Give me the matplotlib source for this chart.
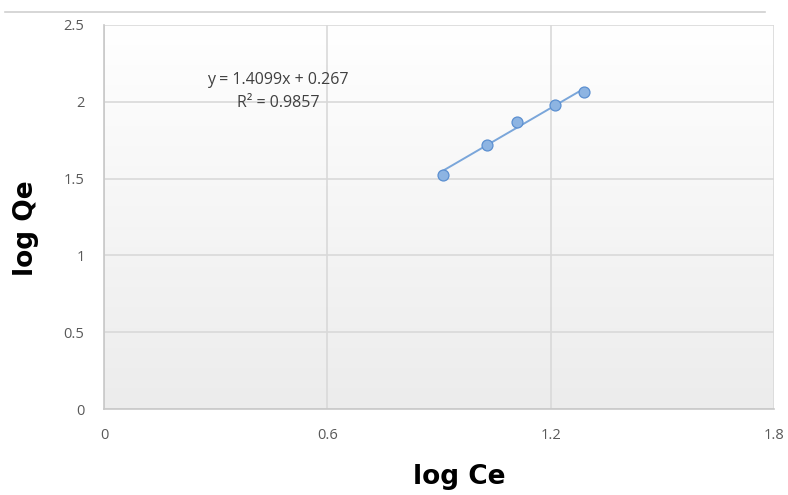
import numpy as np
import matplotlib
matplotlib.use('Agg')
import matplotlib.pyplot as plt
from matplotlib.lines import Line2D

# Data Freundlich (log Ce vs log Qe)
log_ce = [0.910, 1.029, 1.110, 1.212, 1.289]
log_qe = [1.523, 1.719, 1.866, 1.979, 2.062]

# Persamaan garis tren
slope = 1.4099
intercept = 0.267
r2 = 0.9857

x_ticks = [0, 0.6, 1.2, 1.8]
y_ticks = [0, 0.5, 1, 1.5, 2, 2.5]

plt.rcParams['font.family'] = ['Open Sans', 'DejaVu Sans']

fig = plt.figure(figsize=(7.88, 4.95), dpi=100)
ax = fig.add_axes([0.132, 0.1737, 0.850, 0.7758])

# Latar belakang gradasi putih ke abu-abu
grad = np.linspace(1.0, 0.0, 256).reshape(-1, 1)
ax.imshow(grad, cmap=matplotlib.colors.LinearSegmentedColormap.from_list(
    'bg', ['#ececec', '#ffffff']), aspect='auto', extent=[0, 1, 0, 1],
    transform=ax.transAxes, zorder=0, vmin=0, vmax=1)

ax.set_xlim(0, 1.8)
ax.set_ylim(0, 2.5)
ax.set_xticks(x_ticks)
ax.set_yticks(y_ticks)
ax.set_xticklabels(['0', '0.6', '1.2', '1.8'])
ax.set_yticklabels(['0', '0.5', '1', '1.5', '2', '2.5'])
ax.grid(True, color='#d9d9d9', linewidth=1.2, zorder=1)
ax.tick_params(length=0, labelsize=10.5, labelcolor='#595959')
ax.tick_params(axis='x', pad=14)
ax.tick_params(axis='y', pad=14)

for side in ['top', 'right']:
    ax.spines[side].set_visible(False)
for side in ['left', 'bottom']:
    ax.spines[side].set_color('#c8c8c8')
    ax.spines[side].set_linewidth(1.2)

# Garis tren linear
xt = np.array([min(log_ce), max(log_ce)])
ax.plot(xt, slope * xt + intercept, color='#7aa6da', linewidth=1.4, zorder=3)

# Titik data
ax.scatter(log_ce, log_qe, s=62, color='#8db4e2', edgecolors='#5b8fd0',
           linewidths=0.9, zorder=4)

ax.text(0.467, 2.14, 'y = %.4fx + %.3f' % (slope, intercept), ha='center',
        va='center', fontsize=11.5, color='#404040', zorder=5)
ax.text(0.467, 1.99, 'R² = %.4f' % r2, ha='center', va='center',
        fontsize=11.5, color='#404040', zorder=5)

ax.set_xlabel('log Ce', fontsize=19, fontweight='bold', family='DejaVu Sans')
ax.set_ylabel('log Qe', fontsize=19, fontweight='bold', family='DejaVu Sans')
ax.xaxis.set_label_coords(0.531, -0.143)
ax.yaxis.set_label_coords(-0.097, 0.471)

# Garis bingkai atas
fig.add_artist(Line2D([5 / 788, 765 / 788], [1 - 12 / 495, 1 - 12 / 495],
                      color='#d0d0d0', linewidth=1.2))

plt.savefig('out.png', dpi=100)
plt.close()
